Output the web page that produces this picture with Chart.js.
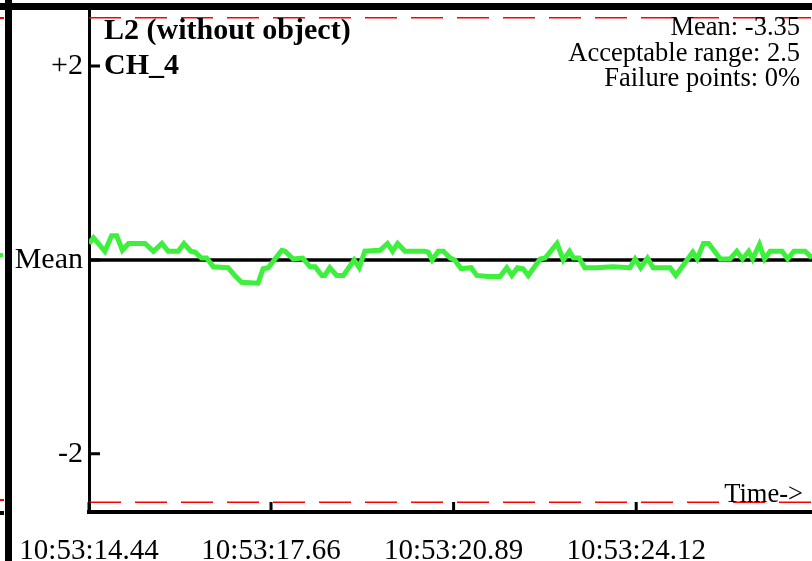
<!DOCTYPE html>
<html>
<head>
<meta charset="utf-8">
<title>L2 (without object) CH_4</title>
<script src="https://cdn.jsdelivr.net/npm/chart.js@4.4.1/dist/chart.umd.min.js"></script>
<style>
  html, body { margin: 0; padding: 0; background: #fff; overflow: hidden; }
  #wrap { position: relative; width: 812px; height: 561px; }
  #chart { position: absolute; left: 0; top: 0; }
  .bar { position: absolute; background: #000; }
  .bit { position: absolute; }
</style>
</head>
<body>
<div id="wrap">
  <canvas id="chart" width="812" height="561"></canvas>
  <!-- frame of the surrounding grid -->
  <div class="bar" style="left:5px;top:0;width:7px;height:561px"></div>
  <div class="bar" style="left:0;top:3px;width:812px;height:7px"></div>
  <!-- edge of the neighbouring panel -->
  <div class="bit" style="left:0;top:17px;width:4px;height:1.5px;background:#f00"></div>
  <div class="bit" style="left:0;top:499px;width:4px;height:1.5px;background:#f00"></div>
  <div class="bit" style="left:0;top:253px;width:3px;height:4px;background:#3cf03c"></div>
  <div class="bit" style="left:0;top:511px;width:4px;height:4px;background:#000"></div>
</div>
<script>
// seconds after 10:53:00
const times = [14.44, 14.52, 14.72, 14.84, 14.93, 15.03, 15.14, 15.43, 15.58, 15.73,
  15.84, 16.02, 16.12, 16.24, 16.32, 16.43, 16.52, 16.64, 16.90, 17.02,
  17.14, 17.43, 17.52, 17.61, 17.85, 17.91, 18.05, 18.22, 18.35, 18.44,
  18.56, 18.61, 18.70, 18.82, 18.94, 19.13, 19.22, 19.32, 19.59, 19.72,
  19.81, 19.90, 20.03, 20.38, 20.44, 20.51, 20.62, 20.71, 20.83, 20.91,
  21.02, 21.20, 21.30, 21.50, 21.71, 21.83, 21.92, 22.02, 22.12, 22.21,
  22.42, 22.51, 22.72, 22.83, 22.94, 23.01, 23.11, 23.21, 23.42, 23.71,
  24.01, 24.10, 24.20, 24.32, 24.42, 24.72, 24.82, 25.02, 25.12, 25.20,
  25.31, 25.40, 25.61, 25.78, 25.90, 26.00, 26.11, 26.18, 26.30, 26.39,
  26.49, 26.70, 26.80, 26.91, 27.11, 27.23];
// deviation from the mean
const values = [0.17, 0.23, 0.09, 0.25, 0.25, 0.10, 0.17, 0.17, 0.09, 0.17,
  0.09, 0.09, 0.17, 0.09, 0.08, 0.02, 0.02, -0.07, -0.08, -0.16,
  -0.23, -0.24, -0.09, -0.08, 0.10, 0.09, 0.01, 0.02, -0.07, -0.07,
  -0.16, -0.16, -0.08, -0.16, -0.16, 0.00, -0.08, 0.09, 0.10, 0.17,
  0.09, 0.17, 0.09, 0.09, 0.08, 0.00, 0.09, 0.09, 0.02, 0.00,
  -0.09, -0.08, -0.16, -0.17, -0.17, -0.08, -0.16, -0.08, -0.09, -0.16,
  0.01, 0.02, 0.17, 0.00, 0.09, 0.02, 0.02, -0.08, -0.08, -0.07,
  -0.08, 0.01, -0.08, 0.02, -0.08, -0.08, -0.16, 0.00, 0.08, 0.01,
  0.17, 0.17, 0.01, 0.01, 0.09, 0.01, 0.09, 0.01, 0.16, 0.01,
  0.09, 0.09, 0.01, 0.09, 0.09, 0.02];

const xTicks = [14.44, 17.66, 20.89, 24.12];
const xTickLabels = ['10:53:14.44', '10:53:17.66', '10:53:20.89', '10:53:24.12'];
const yTicks = [2, 0, -2];
const yTickLabels = ['+2', 'Mean', '-2'];
const acceptRange = 2.5;
const meanValue = -3.35;
const failurePct = 0;

const xMin = 14.44, xMax = 27.23;
const yMin = -2.6, yMax = 2.62;
const serif = "'Liberation Serif', 'Times New Roman', serif";

// short inward tick marks
const tickMarks = {
  id: 'tickMarks',
  afterDatasetsDraw(chart) {
    const { ctx, chartArea, scales } = chart;
    ctx.save();
    ctx.strokeStyle = '#000';
    ctx.lineWidth = 3;
    ctx.beginPath();
    xTicks.forEach(v => {
      const px = scales.x.getPixelForValue(v);
      ctx.moveTo(px, chartArea.bottom);
      ctx.lineTo(px, chartArea.bottom - 10);
    });
    yTicks.forEach(v => {
      const py = scales.y.getPixelForValue(v);
      ctx.moveTo(chartArea.left, py);
      ctx.lineTo(chartArea.left + 11, py);
    });
    ctx.stroke();
    ctx.restore();
  }
};

// panel labels
const panelText = {
  id: 'panelText',
  afterDraw(chart) {
    const { ctx } = chart;
    ctx.save();
    ctx.fillStyle = '#000';
    ctx.textBaseline = 'alphabetic';
    ctx.textAlign = 'left';
    ctx.font = 'bold 30px ' + serif;
    ctx.fillText('L2 (without object)', 104, 39);
    ctx.fillText('CH_4', 104, 74);
    ctx.textAlign = 'right';
    ctx.font = '26.5px ' + serif;
    ctx.fillText('Mean: ' + meanValue.toFixed(2), 800, 35);
    ctx.fillText('Acceptable range: ' + acceptRange, 800, 61);
    ctx.fillText('Failure points: ' + failurePct + '%', 800, 86);
    ctx.fillText('Time->', 803, 502);
    ctx.restore();
  }
};

const ctx = document.getElementById('chart').getContext('2d');
new Chart(ctx, {
  type: 'line',
  data: {
    datasets: [{
      label: 'CH_4',
      data: times.map((t, i) => ({ x: t, y: values[i] })),
      borderColor: '#3cf03c',
      borderWidth: 5,
      pointRadius: 0,
      tension: 0,
      order: 0
    }, {
      label: 'Mean',
      data: [{ x: xMin, y: 0 }, { x: xMax, y: 0 }],
      borderColor: '#000',
      borderWidth: 3.5,
      pointRadius: 0,
      order: 1
    }, {
      label: 'upper',
      data: [{ x: xMin, y: acceptRange }, { x: xMax, y: acceptRange }],
      borderColor: '#ff0000',
      borderWidth: 1.5,
      borderDash: [32, 14],
      pointRadius: 0,
      order: 2
    }, {
      label: 'lower',
      data: [{ x: xMin, y: -acceptRange }, { x: xMax, y: -acceptRange }],
      borderColor: '#ff0000',
      borderWidth: 1.5,
      borderDash: [32, 14],
      pointRadius: 0,
      order: 2
    }]
  },
  options: {
    responsive: false,
    animation: false,
    layout: { padding: { top: 6, right: 0, left: 0, bottom: 0 } },
    plugins: { legend: { display: false }, tooltip: { enabled: false } },
    scales: {
      x: {
        type: 'linear',
        min: xMin,
        max: xMax,
        afterBuildTicks: s => { s.ticks = xTicks.map(v => ({ value: v })); },
        afterFit: s => { s.height = 49; s.paddingLeft = 0; s.paddingRight = 0; },
        grid: { display: false, drawTicks: false },
        border: { display: true, width: 4, color: '#000' },
        ticks: {
          callback: (v, i) => xTickLabels[i],
          autoSkip: false,
          maxRotation: 0,
          padding: 22,
          color: '#000',
          font: { family: serif, size: 29 }
        }
      },
      y: {
        min: yMin,
        max: yMax,
        afterBuildTicks: s => { s.ticks = yTicks.map(v => ({ value: v })); },
        afterFit: s => { s.width = 89; s.paddingTop = 0; s.paddingBottom = 0; },
        grid: { display: false, drawTicks: false },
        border: { display: true, width: 3, color: '#000' },
        ticks: {
          callback: (v, i) => yTickLabels[i],
          padding: 6,
          color: '#000',
          font: { family: serif, size: 30 }
        }
      }
    }
  },
  plugins: [tickMarks, panelText]
});
</script>
</body>
</html>
